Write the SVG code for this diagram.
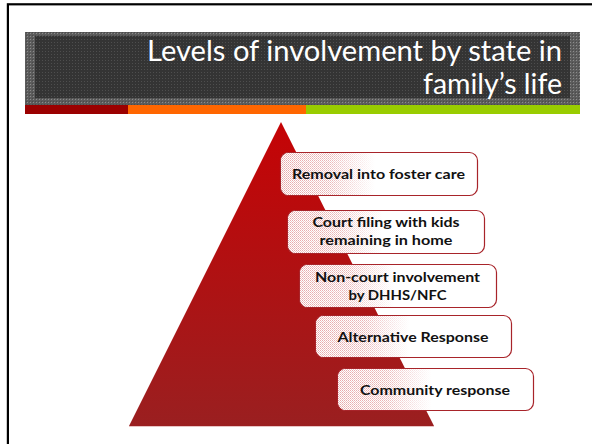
<svg xmlns="http://www.w3.org/2000/svg" width="592" height="444" viewBox="0 0 592 444">
  <defs>
    <style>
      .title { font-family: Lato, "Open Sans", "Liberation Sans", sans-serif; font-size: 28px; font-weight: normal; fill: #ffffff; }
      .label { font-family: Lato, "Liberation Sans", Arial, sans-serif; font-size: 13.5px; font-weight: bold; fill: #111111; text-anchor: middle; }
      .box { fill: #ffffff; stroke: #a8242a; stroke-width: 1.2; }
      .dither { fill: url(#pinkDots); }
    </style>
    <!-- textured header fills -->
    <pattern id="outerTex" width="3" height="3" patternUnits="userSpaceOnUse">
      <rect width="3" height="3" fill="#5c5c5c"/>
      <rect width="1" height="1" fill="#8c8c8c"/>
      <rect x="2" y="2" width="1" height="1" fill="#4a4a4a"/>
    </pattern>
    <pattern id="innerTex" width="3" height="3" patternUnits="userSpaceOnUse">
      <rect width="3" height="3" fill="#343434"/>
      <rect width="1" height="1" fill="#4e4e4e"/>
    </pattern>
    <!-- pink checker used on the left side of each label box -->
    <pattern id="pinkDots" width="2" height="2" patternUnits="userSpaceOnUse">
      <rect width="2" height="2" fill="#ffffff"/>
      <rect width="1" height="1" fill="#e7a9ab"/>
      <rect x="1" y="1" width="1" height="1" fill="#efc4c5"/>
    </pattern>
    <linearGradient id="fadeGrad" x1="0" y1="0" x2="1" y2="0">
      <stop offset="0" stop-color="#ffffff" stop-opacity="1"/>
      <stop offset="0.25" stop-color="#ffffff" stop-opacity="0.85"/>
      <stop offset="0.48" stop-color="#ffffff" stop-opacity="0"/>
    </linearGradient>
    <mask id="fadeMask" maskContentUnits="objectBoundingBox">
      <rect width="1" height="1" fill="url(#fadeGrad)"/>
    </mask>
    <linearGradient id="pyrGrad" x1="0" y1="0" x2="0" y2="1">
      <stop offset="0" stop-color="#c50305"/>
      <stop offset="1" stop-color="#9a1f20"/>
    </linearGradient>
  </defs>

  <rect width="592" height="444" fill="#ffffff"/>

  <!-- slide frame -->
  <rect x="7.9" y="4.3" width="600" height="460" fill="none" stroke="#000000" stroke-width="2.2"/>

  <!-- header bar -->
  <g id="title">
    <rect x="25" y="32" width="555" height="73" fill="url(#outerTex)"/>
    <rect x="35" y="36" width="535" height="62" fill="url(#innerTex)"/>
    <text class="title" x="562" y="61" text-anchor="end" textLength="415" lengthAdjust="spacingAndGlyphs">Levels of involvement by state in</text>
    <text class="title" x="562" y="94" text-anchor="end" textLength="139" lengthAdjust="spacingAndGlyphs">family’s life</text>
  </g>

  <!-- coloured rule under the header -->
  <g id="rule">
    <rect x="25" y="105" width="103" height="9" fill="#9b0000"/>
    <rect x="128" y="105" width="178" height="9" fill="#ff6600"/>
    <rect x="306" y="105" width="274" height="9" fill="#99cc00"/>
  </g>

  <!-- pyramid -->
  <g id="pyramid">
    <polygon points="281,122 129,426 434,426" fill="url(#pyrGrad)"/>
    <line x1="129" y1="426.5" x2="434" y2="426.5" stroke="#e9c4c4" stroke-width="1"/>
  </g>

  <!-- level boxes, top to bottom -->
  <g id="level-removal">
    <rect class="box" x="280.5" y="152.5" width="197" height="43" rx="8"/>
    <rect class="dither" x="281" y="153" width="196" height="42" rx="8" mask="url(#fadeMask)"/>
    <text class="label" x="378.5" y="178.5" textLength="173" lengthAdjust="spacingAndGlyphs">Removal into foster care</text>
  </g>

  <g id="level-court">
    <rect class="box" x="287.5" y="210.5" width="197" height="43" rx="8"/>
    <rect class="dither" x="288" y="211" width="196" height="42" rx="8" mask="url(#fadeMask)"/>
    <text class="label" x="386" y="226.5" textLength="147" lengthAdjust="spacingAndGlyphs">Court filing with kids</text>
    <text class="label" x="386" y="244.5" textLength="133" lengthAdjust="spacingAndGlyphs">remaining in home</text>
  </g>

  <g id="level-noncourt">
    <rect class="box" x="299.5" y="264.5" width="197" height="43" rx="8"/>
    <rect class="dither" x="300" y="265" width="196" height="42" rx="8" mask="url(#fadeMask)"/>
    <text class="label" x="397.5" y="281.5" textLength="165" lengthAdjust="spacingAndGlyphs">Non-court involvement</text>
    <text class="label" x="397.5" y="299.5" textLength="98" lengthAdjust="spacingAndGlyphs">by DHHS/NFC</text>
  </g>

  <g id="level-alternative">
    <rect class="box" x="315.5" y="315.5" width="196" height="42" rx="8"/>
    <rect class="dither" x="316" y="316" width="195" height="41" rx="8" mask="url(#fadeMask)"/>
    <text class="label" x="413" y="341.5" textLength="151" lengthAdjust="spacingAndGlyphs">Alternative Response</text>
  </g>

  <g id="level-community">
    <rect class="box" x="337.5" y="368.5" width="196" height="42" rx="8"/>
    <rect class="dither" x="338" y="369" width="195" height="41" rx="8" mask="url(#fadeMask)"/>
    <text class="label" x="435" y="394.5" textLength="150" lengthAdjust="spacingAndGlyphs">Community response</text>
  </g>
</svg>
